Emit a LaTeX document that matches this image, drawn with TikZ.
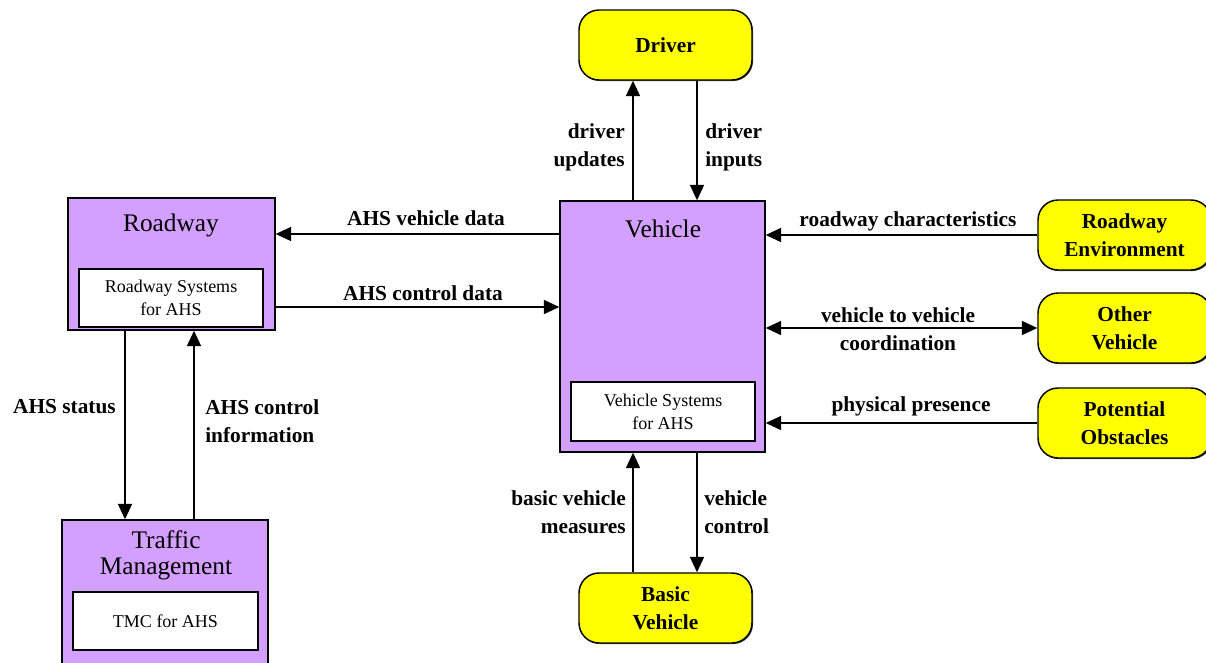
\documentclass[tikz,border=0pt]{standalone}
\usepackage{fontspec}
\setmainfont{Liberation Serif}
\usetikzlibrary{arrows.meta,shadows}
\definecolor{lav}{RGB}{212,160,255}
\definecolor{yel}{RGB}{255,255,0}
\tikzset{
  x=0.75pt,y=-0.75pt,
  sysbox/.style={draw=black,line width=1.1pt,fill=lav,inner sep=0,
     drop shadow={shadow xshift=0.8pt,shadow yshift=-0.8pt,fill=black!70,opacity=1}},
  innerbox/.style={draw=black,line width=1.1pt,fill=white,inner sep=0,align=center,
     font=\fontsize{13.5}{17}\selectfont},
  extbox/.style={draw=black,line width=1.1pt,fill=yel,rounded corners=15pt,inner sep=0,
     minimum width=129.75pt,minimum height=52.5pt,align=center,
     font=\bfseries\fontsize{16}{21}\selectfont,
     drop shadow={shadow xshift=0.8pt,shadow yshift=-0.8pt,fill=black!70,opacity=1}},
  titletext/.style={inner sep=0,align=center,font=\fontsize{19}{19.5}\selectfont},
  lbl/.style={inner sep=0,font=\bfseries\fontsize{16}{21}\selectfont},
  tip/.tip={Triangle[length=11.5pt,width=10.5pt]},
  arr/.style={line width=1.1pt,-tip},
  darr/.style={line width=1.1pt,tip-tip}
}
\begin{document}
\begin{tikzpicture}
\useasboundingbox[fill=white] (0,0) rectangle (1206,662);
% system boxes
\node[sysbox,minimum width=155.25pt,minimum height=99pt] (road) at (171.5,264) {};
\node[titletext] (roadt) at (171,225) {Roadway};
\node[innerbox,minimum width=138pt,minimum height=43.5pt] (roadi) at (171,298) {Roadway Systems\\for AHS};

\node[sysbox,minimum width=153.75pt,minimum height=188.25pt] (veh) at (662.5,326.5) {};
\node[titletext] (veht) at (663,229) {Vehicle};
\node[innerbox,minimum width=138pt,minimum height=44.25pt] (vehi) at (663,411.5) {Vehicle Systems\\for AHS};

\node[sysbox,minimum width=154.5pt,minimum height=114pt] (tm) at (165,596) {};
\node[titletext] (tmt) at (166,555) {Traffic\\Management};
\node[innerbox,minimum width=138.75pt,minimum height=43.5pt] (tmi) at (165.5,621) {TMC for AHS};

% external boxes
\node[extbox] (drv) at (665.5,45) {Driver};
\node[extbox] (bv) at (665.5,608) {Basic\\Vehicle};
\node[extbox] (re) at (1124.5,235) {Roadway\\Environment};
\node[extbox] (ov) at (1124.5,328) {Other\\Vehicle};
\node[extbox] (po) at (1124.5,423) {Potential\\Obstacles};

% x / y positions of connectors
\coordinate (xa) at (633,0);
\coordinate (xb) at (697,0);
\coordinate (xc) at (125,0);
\coordinate (xd) at (194,0);
\coordinate (ya) at (0,234);
\coordinate (yb) at (0,307);

% connectors
\draw[arr] (xa |- veh.north) -- (xa |- drv.south);
\draw[arr] (xb |- drv.south) -- (xb |- veh.north);
\draw[arr] (xa |- bv.north) -- (xa |- veh.south);
\draw[arr] (xb |- veh.south) -- (xb |- bv.north);
\draw[arr] (veh.west |- ya) -- (road.east |- ya);
\draw[arr] (road.east |- yb) -- (veh.west |- yb);
\draw[arr] (xc |- road.south) -- (xc |- tm.north);
\draw[arr] (xd |- tm.north) -- (xd |- road.south);
\draw[arr] (re.west) -- (veh.east |- re.west);
\draw[darr] (veh.east |- ov.west) -- (ov.west);
\draw[arr] (po.west) -- (veh.east |- po.west);

% labels
\node[lbl,align=right,anchor=east] (l1) at (625,147) {driver\\updates};
\node[lbl,align=left,anchor=west] (l2) at (705,147) {driver\\inputs};
\node[lbl,align=right,anchor=east] (l3) at (626,512) {basic vehicle\\measures};
\node[lbl,align=left,anchor=west] (l4) at (704,512) {vehicle\\control};
\node[lbl] (l5) at (426,218) {AHS vehicle data};
\node[lbl] (l6) at (423,293) {AHS control data};
\node[lbl] (l7) at (908,221) {roadway characteristics};
\node[lbl,align=center] (l8) at (898,329) {vehicle to vehicle\\coordination};
\node[lbl] (l9) at (911,406) {physical presence};
\node[lbl,anchor=east] (l10) at (116,407) {AHS status};
\node[lbl,align=left,anchor=west] (l11) at (205,421) {AHS control\\information};
\end{tikzpicture}
\end{document}
